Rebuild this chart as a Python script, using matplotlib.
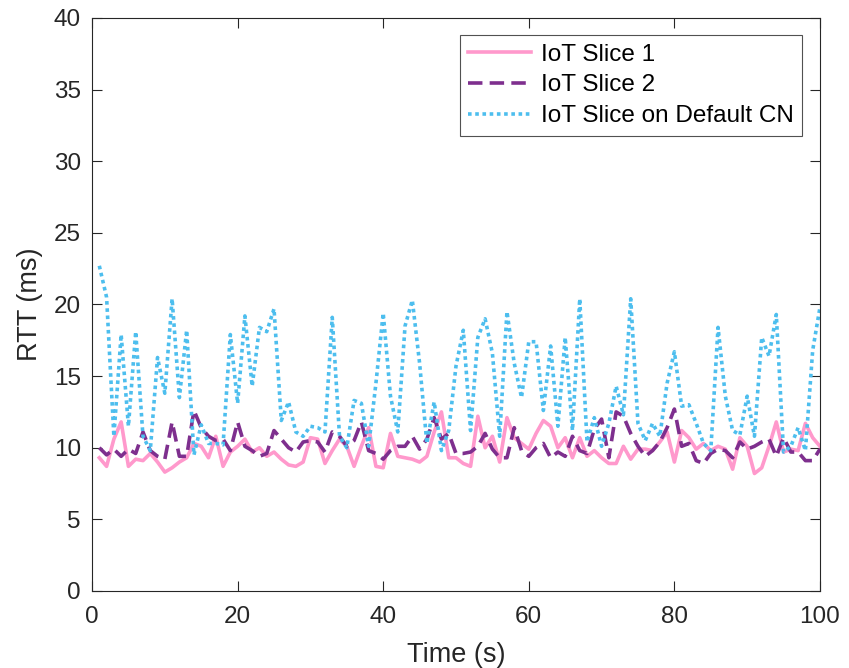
import numpy as np
import matplotlib
matplotlib.use("Agg")
import matplotlib.pyplot as plt

plt.rcParams['font.family'] = ['Liberation Sans', 'DejaVu Sans']

# time axis (s)
t = np.arange(1, 101)

# RTT (ms)
slice1 = [9.3, 8.7, 10.6, 11.8, 8.7, 9.2, 9.1, 9.6, 9.0, 8.3,
          8.6, 9.0, 9.3, 10.3, 10.1, 9.3, 10.8, 8.7, 9.7, 10.1,
          10.6, 9.7, 10.0, 9.4, 9.7, 9.2, 8.8, 8.7, 9.0, 10.7,
          10.6, 8.9, 9.8, 10.6, 10.1, 8.7, 10.1, 11.4, 8.7, 8.6,
          11.0, 9.4, 9.3, 9.2, 9.0, 9.4, 11.1, 12.5, 9.3, 9.3,
          8.9, 8.7, 12.2, 10.0, 10.8, 9.0, 12.1, 10.7, 10.3, 9.9,
          11.0, 11.9, 11.5, 10.0, 10.7, 9.3, 10.7, 9.4, 9.8, 9.3,
          8.9, 8.9, 10.1, 9.2, 9.9, 9.9, 9.8, 10.4, 11.1, 9.0,
          11.2, 10.7, 9.9, 10.3, 9.8, 10.1, 9.9, 8.5, 10.7, 10.1,
          8.2, 8.6, 10.1, 11.8, 9.7, 9.9, 9.8, 11.7, 10.7, 10.1]

slice2 = [10.0, 9.5, 9.9, 9.4, 9.9, 9.6, 11.1, 9.8, 9.4, 9.2,
          11.8, 9.4, 9.4, 12.6, 11.4, 10.8, 10.5, 10.6, 9.8, 11.8,
          10.1, 9.8, 9.4, 9.6, 11.2, 10.6, 10.0, 9.7, 10.4, 10.5,
          10.4, 9.7, 11.1, 10.8, 10.1, 10.5, 11.8, 9.8, 9.6, 9.2,
          9.8, 10.1, 10.1, 10.8, 9.9, 10.6, 12.1, 10.6, 11.0, 9.6,
          9.6, 9.7, 10.1, 11.0, 9.9, 9.3, 9.3, 11.4, 9.8, 9.4,
          10.0, 10.3, 9.3, 9.7, 9.4, 10.8, 9.8, 9.6, 11.3, 12.0,
          9.3, 12.5, 12.2, 11.0, 10.1, 9.4, 9.8, 10.4, 11.4, 12.7,
          10.1, 10.3, 9.1, 8.9, 9.6, 9.9, 9.8, 9.3, 10.4, 9.9,
          10.1, 10.4, 10.6, 9.4, 10.7, 9.7, 9.7, 9.1, 9.1, 9.9]

default_cn = [22.7, 20.5, 10.8, 17.9, 11.5, 18.1, 10.8, 9.8, 16.3, 13.8,
              20.4, 13.5, 18.2, 9.5, 11.6, 10.3, 10.3, 10.2, 17.9, 13.1,
              19.2, 14.3, 18.4, 18.1, 19.7, 11.9, 13.2, 11.1, 10.8, 11.5,
              11.4, 11.1, 19.1, 10.8, 10.0, 13.3, 13.1, 10.1, 14.5, 19.4,
              13.6, 11.1, 18.5, 20.3, 15.9, 10.3, 13.2, 9.8, 11.2, 15.7,
              18.2, 11.2, 17.7, 19.0, 16.6, 10.8, 19.5, 15.9, 13.5, 17.4,
              17.4, 12.6, 17.1, 11.5, 17.7, 11.2, 20.4, 10.4, 12.1, 10.1,
              11.7, 14.3, 12.3, 20.4, 11.7, 10.5, 11.7, 10.8, 14.5, 16.7,
              12.9, 13.0, 11.7, 10.3, 9.8, 18.4, 13.6, 11.2, 10.9, 13.6,
              10.8, 17.7, 16.4, 19.3, 9.7, 10.1, 11.4, 9.8, 16.8, 19.8]

labels = ['IoT Slice 1', 'IoT Slice 2', 'IoT Slice on Default CN']

fig = plt.figure(figsize=(8.49, 6.68), dpi=100)
ax = fig.add_axes([0.1084, 0.1153, 0.8574, 0.8578])

ax.plot(t, slice1, color='#FF99CC', linewidth=2.6, linestyle='-', label=labels[0])
ax.plot(t, slice2, color='#7E2F8E', linewidth=2.6, linestyle=(0, (4, 2)), label=labels[1])
ax.plot(t, default_cn, color='#4DBEEE', linewidth=2.6, linestyle=(0, (1, 1)), label=labels[2])

ax.set_xlim(0, 100)
ax.set_ylim(0, 40)
ax.set_xticks([0, 20, 40, 60, 80, 100])
ax.set_yticks(range(0, 41, 5))

txt = '#262626'
ax.tick_params(direction='in', length=7, width=0.8, top=True, right=True,
               labelsize=17.5, colors=txt, pad=8)
ax.tick_params(axis='x', pad=11)
for s in ax.spines.values():
    s.set_color(txt)
    s.set_linewidth(0.8)

ax.set_xlabel('Time (s)', fontsize=19.5, color=txt, labelpad=10)
ax.set_ylabel('RTT (ms)', fontsize=19.5, color=txt, labelpad=8)

leg = ax.legend(loc='upper right', bbox_to_anchor=(0.976, 0.97), fontsize=17.5,
                frameon=True, fancybox=False, borderpad=0.35, labelspacing=0.36,
                handlelength=2.6, handletextpad=0.4, borderaxespad=0)
leg.get_frame().set_edgecolor(txt)
leg.get_frame().set_linewidth(0.8)

fig.savefig('out.png', dpi=100, facecolor='white')
